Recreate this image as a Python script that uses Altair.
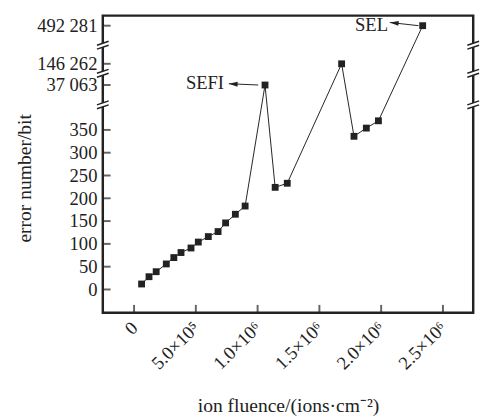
import altair as alt
import pandas as pd

# ---- data ----
fluence = [6.1e4, 1.21e5, 1.79e5, 2.61e5, 3.22e5, 3.80e5, 4.61e5, 5.20e5, 6.01e5,
           6.80e5, 7.41e5, 8.20e5, 8.99e5, 1.06e6, 1.142e6, 1.24e6, 1.68e6,
           1.78e6, 1.88e6, 1.978e6, 2.336e6]
errors = [12, 28, 39, 56, 70, 81, 91, 104, 116, 127, 146, 165, 183, 37063,
          224, 233, 146262, 336, 354, 370, 492281]

x_tick_values = [0, 500000, 1000000, 1500000, 2000000, 2500000]
x_tick_labels = ["0", "5.0×10⁵", "1.0×10⁶", "1.5×10⁶", "2.0×10⁶", "2.5×10⁶"]
y_tick_values = [0, 50, 100, 150, 200, 250, 300, 350, 37063, 146262, 492281]

# broken y axis: piecewise scale
y_domain = [-51, 420, 37063, 146262, 492281, 583000]
y_range = [304, 84.3, 71, 49.3, 10.3, 0]
x_domain = [-253000, 2745000]
y_breaks = [405, 97450, 314830]

ann_text = ["SEFI", "SEL"]
ann_text_x = [5.74e5, 1.922e6]
ann_text_y = [48640, 494000]
ann_tip_x = [7.67e5, 2.07e6]
ann_tip_y = [43600, 521300]
ann_tail_x = [1.005e6, 2.302e6]
ann_tail_y = [37063, 492281]
ann_angle = [3, 6]

FONT = "Liberation Serif"
INK = "#222222"
FS = 19
TFS = 20

# ---- tables ----
df = pd.DataFrame({"x": fluence, "y": errors})
df_yt = pd.DataFrame({"x": [x_domain[0]] * len(y_tick_values), "y": y_tick_values})
df_xt = pd.DataFrame({"x": x_tick_values, "y": [y_domain[0]] * len(x_tick_values)})
df_br = pd.DataFrame({"x": [x_domain[0]] * 3 + [x_domain[1]] * 3, "y": y_breaks * 2})
df_ann = pd.DataFrame({"t": ann_text, "x": ann_text_x, "y": ann_text_y,
                       "tx": ann_tip_x, "ty": ann_tip_y,
                       "sx": ann_tail_x, "sy": ann_tail_y, "ang": ann_angle})

label_expr_x = ""
for v, l in zip(x_tick_values, x_tick_labels):
    label_expr_x += f"datum.value == {v} ? '{l}' : "
label_expr_x += "''"

xscale = alt.Scale(domain=x_domain, nice=False, zero=False)
yscale = alt.Scale(type="linear", domain=y_domain, range=y_range, nice=False, zero=False)

xaxis = alt.Axis(values=x_tick_values, labelExpr=label_expr_x, labelAngle=315,
                 labelAlign="right", labelBaseline="middle",
                 tickSize=0, labelPadding=12, domain=False, grid=False,
                 title="ion fluence/(ions·cm⁻²)", titlePadding=24)
yaxis = alt.Axis(values=y_tick_values,
                 labelExpr="replace(format(datum.value, ','), ',', ' ')",
                 tickSize=0, labelPadding=6, domain=False, grid=False,
                 title="error number/bit", titlePadding=2, titleY=166)


def X(f="x"):
    return alt.X(f, type="quantitative", scale=xscale, axis=xaxis)


def Y(f="y"):
    return alt.Y(f, type="quantitative", scale=yscale, axis=yaxis)


line = alt.Chart(df).mark_line(color=INK, strokeWidth=1).encode(x=X(), y=Y())
pts = alt.Chart(df).mark_point(shape="square", filled=True, size=49, color=INK,
                               opacity=1).encode(x=X(), y=Y())

yt = alt.Chart(df_yt).mark_tick(orient="horizontal", size=8, thickness=2,
                                xOffset=4, color=INK).encode(x=X(), y=Y())
xt = alt.Chart(df_xt).mark_tick(orient="vertical", size=8, thickness=2,
                                yOffset=-4, color=INK).encode(x=X(), y=Y())

br_fill = alt.Chart(df_br).mark_point(
    shape="M-1,0 L1,-0.67 L1,0 L-1,0.67 Z", size=144, filled=True,
    fill="white", strokeWidth=0, opacity=1).encode(x=X(), y=Y())
br_line = alt.Chart(df_br).mark_point(
    shape="M-1,0 L1,-0.67 M-1,0.67 L1,0", size=144, filled=False,
    stroke=INK, strokeWidth=1.5, opacity=1).encode(x=X(), y=Y())

ann_t = alt.Chart(df_ann).mark_text(font=FONT, fontSize=FS, color=INK,
                                    align="center", baseline="middle").encode(
    x=X(), y=Y(), text="t:N")
ann_r = alt.Chart(df_ann).mark_rule(color=INK, strokeWidth=1).encode(
    x=X("tx"), y=Y("ty"), x2="sx:Q", y2="sy:Q")
ann_h = alt.Chart(df_ann).mark_point(shape="M0,0 L1,-0.28 L1,0.28 Z", size=324,
                                     filled=True, color=INK, opacity=1).encode(
    x=X("tx"), y=Y("ty"), angle=alt.Angle("ang:Q", scale=None))

chart = alt.layer(line, pts, yt, xt, br_fill, br_line, ann_r, ann_h, ann_t).properties(
    width=379, height=304,
    padding={"left": 7, "top": 3, "right": 0, "bottom": 0},
).configure_view(stroke=INK, strokeWidth=2.5).configure_axis(
    labelFont=FONT, titleFont=FONT, labelFontSize=FS, titleFontSize=TFS,
    titleFontWeight="normal", labelColor=INK, titleColor=INK
)

chart.save("out.html", embed_options={"renderer": "svg", "actions": False})
